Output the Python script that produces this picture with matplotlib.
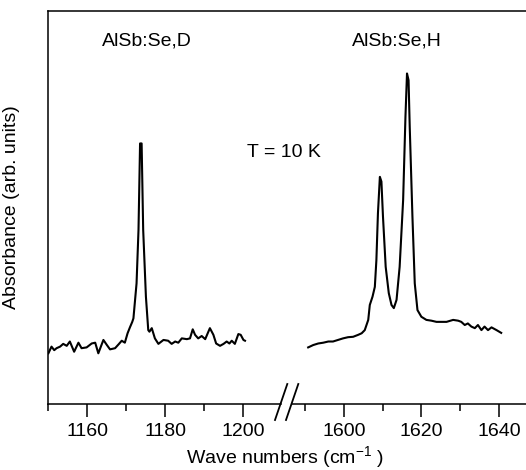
import numpy as np
import matplotlib
matplotlib.use('Agg')
from matplotlib import pyplot as plt
from matplotlib.ticker import MultipleLocator
from matplotlib.lines import Line2D

plt.rcParams['font.family'] = ['Liberation Sans', 'DejaVu Sans']
plt.rcParams['mathtext.fontset'] = 'custom'
plt.rcParams['mathtext.rm'] = 'Liberation Sans'
plt.rcParams['mathtext.it'] = 'Liberation Sans:italic'

# AlSb:Se,D spectrum (left panel)
wn_d = [1150.1, 1150.9, 1151.6, 1152.2, 1153.1, 1153.9, 1154.8, 1155.6, 1156.7, 1157.8,
        1158.6, 1159.9, 1161.2, 1162.1, 1162.9, 1164.2, 1165.1, 1165.9, 1167.2, 1168.2,
        1168.9, 1169.7, 1170.4, 1171.0, 1171.6, 1171.9, 1172.7, 1173.2, 1173.6, 1174.0,
        1174.4, 1175.1, 1175.7, 1176.0, 1176.6, 1177.4, 1178.3, 1179.6, 1180.8, 1181.7,
        1182.6, 1183.4, 1184.3, 1185.6, 1186.4, 1187.1, 1187.7, 1188.5, 1189.4, 1190.3,
        1191.5, 1192.4, 1193.1, 1194.1, 1195.0, 1195.8, 1196.5, 1197.1, 1197.9, 1198.8,
        1199.4, 1200.1, 1200.5]
abs_d = [12.9, 14.6, 13.7, 14.2, 14.6, 15.3, 14.8, 15.9, 13.3, 15.6,
         14.2, 14.4, 15.4, 15.6, 12.9, 16.3, 15.0, 13.9, 14.2, 15.3,
         16.1, 15.6, 18.0, 19.5, 20.9, 21.8, 30.7, 44.3, 66.3, 66.3,
         44.3, 27.3, 18.8, 18.4, 19.3, 16.7, 15.3, 16.3, 16.1, 15.3,
         15.9, 15.6, 16.7, 16.5, 16.7, 19.0, 17.6, 16.7, 17.3, 16.5,
         19.3, 17.6, 15.4, 14.8, 15.3, 15.9, 15.4, 16.1, 15.3, 17.8,
         17.6, 16.3, 16.1]

# AlSb:Se,H spectrum (right panel)
wn_h = [1590.8, 1592.1, 1593.4, 1594.7, 1596.0, 1597.2, 1598.5, 1599.8, 1601.1, 1602.4,
        1603.7, 1604.6, 1605.4, 1606.3, 1606.7, 1607.4, 1608.0, 1608.4, 1608.8, 1609.3,
        1609.7, 1610.1, 1610.8, 1611.6, 1612.3, 1612.9, 1613.6, 1614.4, 1615.3, 1615.9,
        1616.3, 1616.7, 1617.0, 1617.7, 1618.3, 1619.0, 1620.0, 1621.3, 1622.6, 1623.9,
        1625.2, 1626.5, 1628.2, 1629.5, 1630.3, 1631.2, 1632.0, 1632.9, 1633.8, 1634.6,
        1635.5, 1636.3, 1637.2, 1638.1, 1639.4, 1640.6]
abs_h = [14.4, 15.0, 15.4, 15.6, 15.9, 15.9, 16.3, 16.7, 17.0, 17.1,
         17.6, 18.0, 18.8, 21.4, 25.2, 27.3, 29.8, 36.6, 48.5, 57.8,
         56.6, 47.7, 34.9, 28.2, 25.2, 24.4, 26.5, 34.9, 51.9, 73.1,
         84.1, 82.4, 70.6, 47.7, 30.7, 23.9, 22.2, 21.4, 21.2, 20.9,
         20.9, 20.9, 21.4, 21.2, 20.9, 20.1, 20.5, 19.7, 19.3, 20.1,
         18.8, 19.7, 18.8, 19.5, 18.8, 18.1]

W, H = 526, 470
fig = plt.figure(figsize=(W / 100, H / 100), dpi=100)

bottom = 1 - 404 / H
height = (404 - 11) / H
ax1 = fig.add_axes([48 / W, bottom, (280.5 - 48) / W, height])
ax2 = fig.add_axes([291.5 / W, bottom, (526 - 291.5) / W, height])
ax2.patch.set_visible(False)

ax1.plot(wn_d, abs_d, color='black', lw=1.5)
ax2.plot(wn_h, abs_h, color='black', lw=1.5)

ax1.set_xlim(1150, 1209.6)
ax2.set_xlim(1586.5, 1647)
for ax in (ax1, ax2):
    ax.set_ylim(0, 100)
    ax.set_yticks([])
    ax.xaxis.set_major_locator(MultipleLocator(20))
    ax.xaxis.set_minor_locator(MultipleLocator(10))
    ax.tick_params(axis='x', which='major', direction='out', length=9.5, width=1.1,
                   labelsize=14, pad=4)
    ax.tick_params(axis='x', which='minor', direction='out', length=5, width=1.1)
    ax.spines['right'].set_visible(False)
    ax.spines['top'].set_visible(False)
    for s in ax.spines.values():
        s.set_linewidth(1.1)
ax2.spines['left'].set_visible(False)

ax1.set_ylabel('Absorbance (arb. units)', fontsize=14)
ax1.yaxis.set_label_coords(-0.12, 0.5)
fig.text(285 / W, 1 - 457 / H, 'Wave numbers (cm$^{-1}$ )', fontsize=14,
         ha='center', va='center')

ax1.text(1163.8, 92.4, 'AlSb:Se,D', fontsize=14, va='center')
ax2.text(1602.1, 92.4, 'AlSb:Se,H', fontsize=14, va='center')
ax1.text(1201.0, 63.9, 'T = 10 K', fontsize=14, va='center', clip_on=False)

# one top frame line across both panels
fig.add_artist(Line2D([48 / W, 1.0], [1 - 11 / H, 1 - 11 / H],
                      color='black', lw=1.1, solid_capstyle='projecting'))

# axis break marks
for x0 in (275, 286):
    fig.add_artist(Line2D([x0 / W, (x0 + 12.3) / W], [1 - 420 / H, 1 - 384 / H],
                          color='black', lw=1.3))

fig.savefig('out.png', dpi=100)
